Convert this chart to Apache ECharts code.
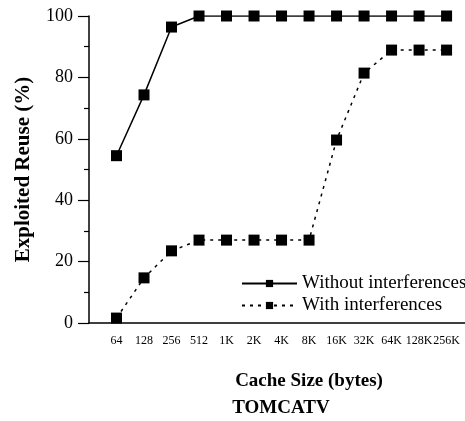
<!DOCTYPE html>
<html>
<head>
<meta charset="utf-8">
<script src="https://cdn.jsdelivr.net/npm/echarts@6/dist/echarts.min.js"></script>
<style>html,body{margin:0;padding:0;background:#fff;}#c{width:465px;height:421px;}</style>
</head>
<body>
<div id="c"></div>
<script>
var categories = ['64','128','256','512','1K','2K','4K','8K','16K','32K','64K','128K','256K'];
var withoutInterf = [54.5, 74.3, 96.4, 100, 100, 100, 100, 100, 100, 100, 100, 100, 100];
var withInterf = [1.6, 14.7, 23.5, 27.0, 27.0, 27.0, 27.0, 27.0, 59.6, 81.4, 88.9, 88.9, 88.9];
var yTicks = [0, 20, 40, 60, 80, 100];

function pairs(arr){ return arr.map(function(v,i){ return [i, v]; }); }
var serif = 'Liberation Serif, Times New Roman, serif';
var chart = echarts.init(document.getElementById('c'), null, {renderer:'canvas'});
chart.setOption({
  animation: false,
  backgroundColor: '#fff',
  grid: {left: 89, top: 16, right: 0, bottom: 98, containLabel: false},
  xAxis: {
    type: 'value', min: -1, max: 12.67, interval: 1,
    splitLine: {show: false},
    axisTick: {show: false},
    axisLine: {show: true, onZero: false, lineStyle: {color: '#000', width: 1.5}},
    axisLabel: {
      color: '#000', fontFamily: serif, fontSize: 12, margin: 12,
      showMinLabel: false, showMaxLabel: false,
      formatter: function(v){ var i = Math.round(v); return (i >= 0 && i < categories.length && Math.abs(v - i) < 1e-6) ? categories[i] : ''; }
    }
  },
  yAxis: {
    type: 'value', min: 0, max: 100, interval: 20,
    name: 'Exploited Reuse (%)', nameLocation: 'middle', nameGap: 55,
    nameTextStyle: {color: '#000', fontFamily: serif, fontSize: 21, fontWeight: 'bold'},
    splitLine: {show: false},
    axisLine: {show: true, onZero: false, lineStyle: {color: '#000', width: 1.5}},
    axisTick: {show: true, inside: false, length: 11, lineStyle: {color: '#000', width: 1.2}},
    minorTick: {show: true, splitNumber: 2, length: 5, lineStyle: {color: '#000', width: 1.2}},
    axisLabel: {color: '#000', fontFamily: serif, fontSize: 18, margin: 16,
      formatter: function(v){ return yTicks.indexOf(v) >= 0 ? String(v) : ''; }}
  },
  legend: {
    orient: 'vertical', left: 236, top: 269, itemWidth: 55, itemHeight: 9, itemGap: 3,
    textStyle: {color: '#000', fontFamily: serif, fontSize: 19},
    data: ['Without interferences', 'With interferences']
  },
  graphic: [
    {type: 'text', x: 309, y: 381, style: {text: 'Cache Size (bytes)', fill: '#000', font: 'bold 19px ' + serif, textAlign: 'center', textVerticalAlign: 'middle'}},
    {type: 'text', x: 281, y: 408, style: {text: 'TOMCATV', fill: '#000', font: 'bold 19px ' + serif, textAlign: 'center', textVerticalAlign: 'middle'}}
  ],
  series: [
    {name: 'Without interferences', type: 'line', data: pairs(withoutInterf),
      symbol: 'rect', symbolSize: 11, itemStyle: {color: '#000'},
      lineStyle: {color: '#000', width: 1.5, type: 'solid'}},
    {name: 'With interferences', type: 'line', data: pairs(withInterf),
      symbol: 'rect', symbolSize: 11, itemStyle: {color: '#000'},
      lineStyle: {color: '#000', width: 1.5, type: [3, 5]}}
  ]
});
</script>
</body>
</html>
